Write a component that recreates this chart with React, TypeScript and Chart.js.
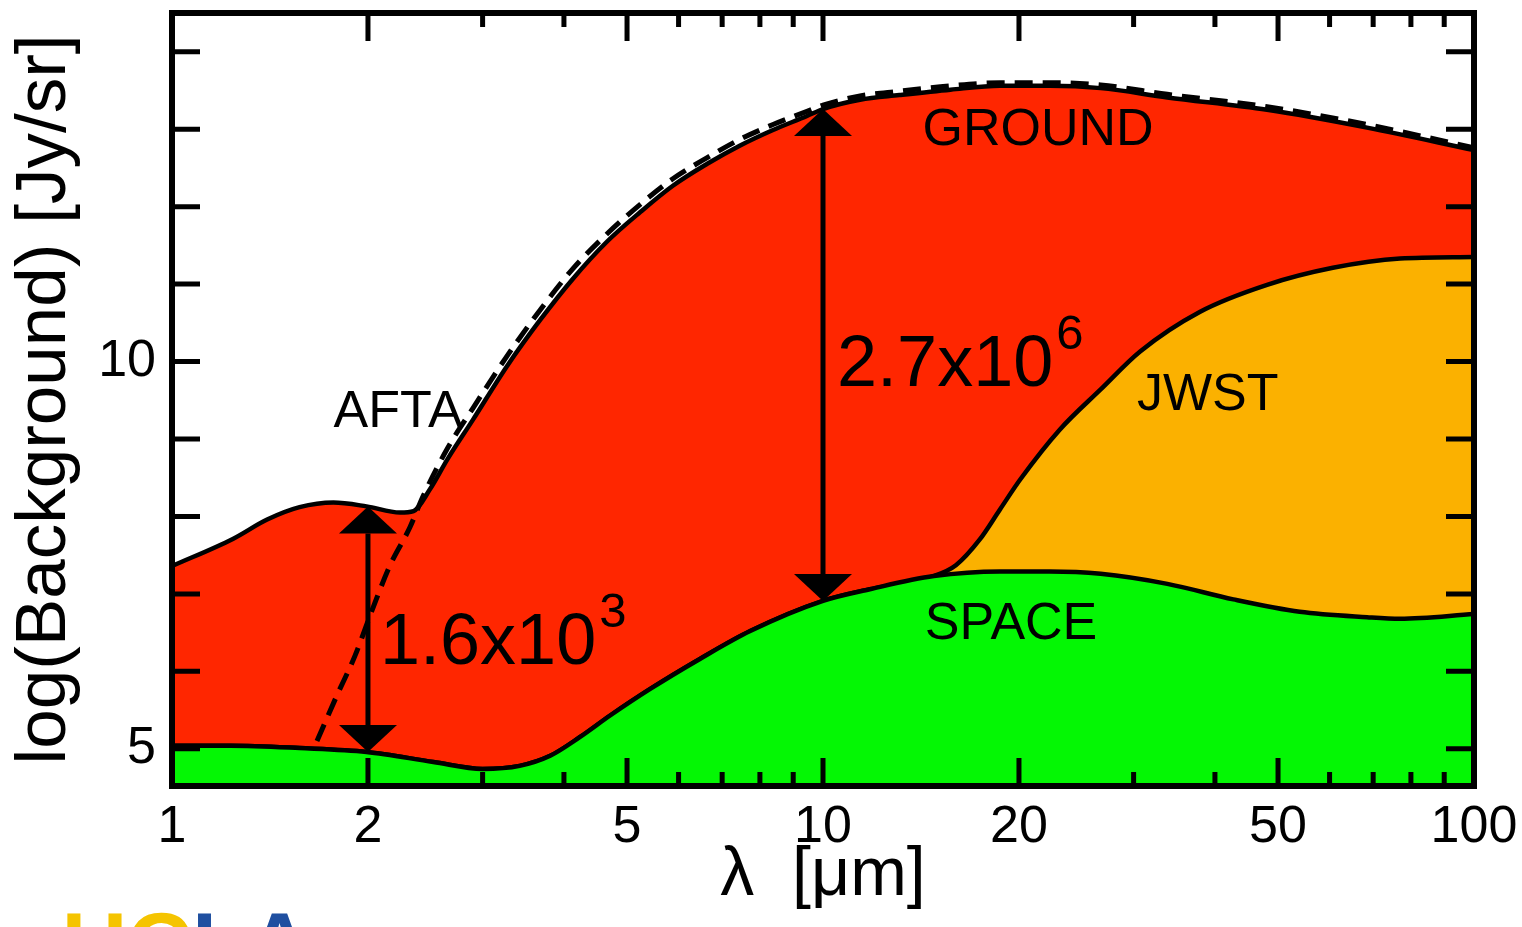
import React, { useEffect, useRef } from 'react';
import { Chart, registerables } from 'chart.js';

Chart.register(...registerables);

const FONT = '"Liberation Sans", Arial, Helvetica, sans-serif';

// ---- axes ----
const xTickValues = [1, 2, 5, 10, 20, 50, 100];
const xMinorTicks = [3, 4, 6, 7, 8, 9, 30, 40, 60, 70, 80, 90];
const yTickLabels = [5, 10];
const yTickMarks = [5, 6, 7, 8, 9, 10, 11, 12, 13, 14];

// ---- GROUND background (red) ----
const lambdaGround = [1, 1.24, 1.40, 1.57, 1.77, 1.99, 2.24, 2.35, 2.49, 2.65, 2.90, 3.27, 3.68, 4.13, 4.66, 5.24, 5.88, 6.63, 7.46, 8.38, 9.45, 10, 11.4, 13.1, 15.7, 18.7, 22.3, 26.7, 33.8, 48.1, 68.5, 100];
const ground = [7.36, 7.71, 7.96, 8.12, 8.18, 8.13, 8.05, 8.07, 8.35, 8.74, 9.25, 9.94, 10.54, 11.07, 11.55, 11.93, 12.27, 12.55, 12.79, 12.99, 13.17, 13.26, 13.38, 13.44, 13.51, 13.56, 13.56, 13.53, 13.41, 13.25, 13.02, 12.73];

// ---- JWST background (orange) ----
const lambdaJwst = [1, 1.23, 1.57, 1.99, 2.52, 3.0, 3.42, 3.81, 4.23, 4.71, 5.42, 6.47, 7.73, 10, 11.8, 14.8, 16.0, 17.4, 18.7, 20.1, 23.1, 26.7, 30.7, 37.9, 48.1, 60.7, 77.0, 100];
const jwst = [5.04, 5.04, 5.01, 4.96, 4.83, 4.74, 4.78, 4.91, 5.15, 5.43, 5.77, 6.16, 6.52, 6.91, 7.06, 7.23, 7.37, 7.70, 8.09, 8.48, 9.12, 9.64, 10.13, 10.64, 10.99, 11.21, 11.33, 11.35];

// ---- SPACE background (green) ----
const lambdaSpace = [1, 1.23, 1.57, 1.99, 2.52, 3.0, 3.42, 3.81, 4.23, 4.71, 5.42, 6.47, 7.73, 10, 11.8, 14.8, 18.7, 22.3, 26.7, 33.8, 42.7, 54.0, 68.5, 77.0, 100];
const space = [5.04, 5.04, 5.01, 4.96, 4.83, 4.74, 4.78, 4.91, 5.15, 5.43, 5.77, 6.16, 6.52, 6.91, 7.06, 7.23, 7.29, 7.29, 7.26, 7.13, 6.93, 6.77, 6.70, 6.68, 6.74];

// ---- AFTA (dashed) ----
const lambdaAfta = [1.67, 1.79, 1.91, 2.04, 2.16, 2.32, 2.43, 2.65, 2.90, 3.27, 3.68, 4.13, 4.66, 5.24, 5.88, 6.63, 7.46, 8.38, 9.45, 10, 11.4, 13.1, 15.7, 18.7, 22.3, 26.7, 33.8, 48.1, 68.5, 100];
const afta = [5.10, 5.68, 6.20, 6.84, 7.36, 7.86, 8.26, 8.88, 9.40, 10.07, 10.67, 11.20, 11.65, 12.03, 12.36, 12.63, 12.87, 13.06, 13.23, 13.31, 13.43, 13.49, 13.56, 13.60, 13.60, 13.57, 13.45, 13.29, 13.06, 12.76];

// ---- arrows ----
const arrowLambda = [2, 10];
const arrowLow = [4.96, 6.91];
const arrowHigh = [8.13, 13.26];

// ---- labels ----
const labelText = ['GROUND', 'JWST', 'SPACE', 'AFTA'];
const labelLambda = [21.4, 39.0, 19.45, 2.225];
const labelValue = [12.8, 9.38, 6.42, 9.15];

const ratioBase = ['1.6x10', '2.7x10'];
const ratioExp = ['3', '6'];
const ratioLambda = [2.087, 10.51];
const ratioValue = [6.10, 9.68];

const pts = (xs: number[], ys: number[]) => xs.map((x, i) => ({ x, y: ys[i] }));

const decorPlugin = {
  id: 'decor',
  afterDatasetsDraw(chart: any) {
    const { ctx, chartArea: a, scales } = chart;
    const xs = scales.x;
    const ys = scales.y;
    ctx.save();
    ctx.strokeStyle = '#000';
    ctx.fillStyle = '#000';
    ctx.lineCap = 'butt';

    // tick marks (inside, on all four sides)
    ctx.lineWidth = 5;
    const xt = [...xTickValues.map((v) => [v, 28]), ...xMinorTicks.map((v) => [v, 14])];
    xt.forEach(([v, len]) => {
      const px = xs.getPixelForValue(v);
      ctx.beginPath();
      ctx.moveTo(px, a.bottom);
      ctx.lineTo(px, a.bottom - len);
      ctx.moveTo(px, a.top);
      ctx.lineTo(px, a.top + len);
      ctx.stroke();
    });
    yTickMarks.forEach((v) => {
      const py = ys.getPixelForValue(v);
      ctx.beginPath();
      ctx.moveTo(a.left, py);
      ctx.lineTo(a.left + 28, py);
      ctx.moveTo(a.right, py);
      ctx.lineTo(a.right - 28, py);
      ctx.stroke();
    });

    // arrows
    const headW = 29;
    const headH = 27;
    arrowLambda.forEach((lam, i) => {
      const px = xs.getPixelForValue(lam);
      const top = ys.getPixelForValue(arrowHigh[i]);
      const bot = ys.getPixelForValue(arrowLow[i]);
      ctx.lineWidth = 5;
      ctx.beginPath();
      ctx.moveTo(px, top + headH);
      ctx.lineTo(px, bot - headH);
      ctx.stroke();
      ctx.beginPath();
      ctx.moveTo(px, top);
      ctx.lineTo(px - headW, top + headH);
      ctx.lineTo(px + headW, top + headH);
      ctx.closePath();
      ctx.fill();
      ctx.beginPath();
      ctx.moveTo(px, bot);
      ctx.lineTo(px - headW, bot - headH);
      ctx.lineTo(px + headW, bot - headH);
      ctx.closePath();
      ctx.fill();
    });

    // region labels
    ctx.font = `52px ${FONT}`;
    ctx.textAlign = 'center';
    ctx.textBaseline = 'alphabetic';
    labelText.forEach((t, i) => {
      ctx.fillText(t, xs.getPixelForValue(labelLambda[i]), ys.getPixelForValue(labelValue[i]));
    });

    // ratio labels with superscripts
    ctx.textAlign = 'left';
    ratioBase.forEach((t, i) => {
      const px = xs.getPixelForValue(ratioLambda[i]);
      const py = ys.getPixelForValue(ratioValue[i]);
      ctx.font = `72px ${FONT}`;
      ctx.fillText(t, px, py);
      const w = ctx.measureText(t).width;
      ctx.font = `49px ${FONT}`;
      ctx.fillText(ratioExp[i], px + w + 3, py - 37);
    });

    // frame
    ctx.lineWidth = 6;
    ctx.strokeRect(a.left, a.top, a.right - a.left, a.bottom - a.top);
    ctx.restore();
  },
  afterDraw(chart: any) {
    const { ctx } = chart;
    ctx.save();
    ctx.font = `bold 90px ${FONT}`;
    ctx.textAlign = 'left';
    ctx.textBaseline = 'alphabetic';
    const base = 912 + 0.716 * 90;
    ctx.fillStyle = '#F5C400';
    ctx.fillText('UC', 62, base);
    const w = ctx.measureText('UC').width;
    ctx.fillStyle = '#1F4FA0';
    ctx.fillText('LA', 62 + w, base);
    ctx.restore();
  },
};

const zeroPad = (s: any) => {
  s.paddingTop = 0;
  s.paddingBottom = 0;
  s.paddingLeft = 0;
  s.paddingRight = 0;
};

export default function App() {
  const ref = useRef<HTMLCanvasElement | null>(null);

  useEffect(() => {
    if (!ref.current) return;
    const common = {
      pointRadius: 0,
      pointHoverRadius: 0,
      borderColor: '#000',
      borderWidth: 4.5,
      cubicInterpolationMode: 'monotone' as const,
    };
    const chart = new Chart(ref.current, {
      type: 'line',
      data: {
        datasets: [
          {
            ...common,
            label: 'AFTA',
            data: pts(lambdaAfta, afta),
            fill: false,
            borderDash: [18, 10],
            borderWidth: 5,
            order: 0,
          },
          {
            ...common,
            label: 'SPACE',
            data: pts(lambdaSpace, space),
            fill: 'start',
            backgroundColor: '#04F704',
            order: 1,
          },
          {
            ...common,
            label: 'JWST',
            data: pts(lambdaJwst, jwst),
            fill: 'start',
            backgroundColor: '#FBB100',
            order: 2,
          },
          {
            ...common,
            label: 'GROUND',
            data: pts(lambdaGround, ground),
            fill: 'start',
            backgroundColor: '#FF2600',
            order: 3,
          },
        ],
      },
      options: {
        responsive: false,
        animation: false,
        events: [],
        layout: { padding: { top: 13, right: 48, bottom: 0, left: 0 } },
        plugins: {
          legend: { display: false },
          tooltip: { enabled: false },
        },
        scales: {
          x: {
            type: 'logarithmic',
            min: 1,
            max: 100,
            position: 'bottom',
            grid: { display: false, drawTicks: false, tickLength: 0 },
            border: { display: false },
            afterBuildTicks: (s: any) => {
              s.ticks = xTickValues.map((v) => ({ value: v }));
            },
            afterFit: (s: any) => {
              s.height = 141;
              zeroPad(s);
            },
            ticks: {
              autoSkip: false,
              maxRotation: 0,
              minRotation: 0,
              padding: 16,
              color: '#000',
              font: { family: FONT, size: 52, lineHeight: 1 },
              callback: (v: any) => String(v),
            },
            title: {
              display: true,
              text: 'λ  [μm]',
              color: '#000',
              font: { family: FONT, size: 68, lineHeight: 1 },
              padding: { top: 0, bottom: 17 },
            },
          },
          y: {
            type: 'linear',
            min: 4.52,
            max: 14.5,
            grid: { display: false, drawTicks: false, tickLength: 0 },
            border: { display: false },
            afterBuildTicks: (s: any) => {
              s.ticks = yTickLabels.map((v) => ({ value: v }));
            },
            afterFit: (s: any) => {
              s.width = 172;
              zeroPad(s);
            },
            ticks: {
              padding: 16,
              color: '#000',
              font: { family: FONT, size: 52, lineHeight: 1 },
              callback: (v: any) => String(v),
            },
            title: {
              display: true,
              text: 'log(Background) [Jy/sr]',
              color: '#000',
              font: { family: FONT, size: 71, lineHeight: 1 },
              padding: { top: 10, bottom: 0 },
            },
          },
        },
      },
      plugins: [decorPlugin],
    });
    return () => chart.destroy();
  }, []);

  return (
    <div style={{ position: 'absolute', left: 0, top: 0, width: 1522, height: 927, background: '#fff' }}>
      <canvas ref={ref} width={1522} height={927} style={{ display: 'block' }} />
    </div>
  );
}
